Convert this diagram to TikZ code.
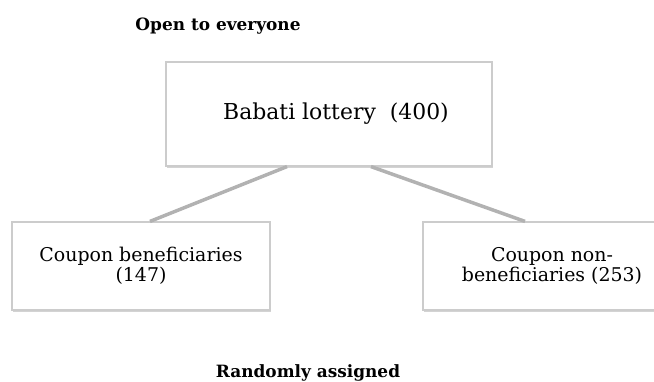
\documentclass[tikz,border=0pt]{standalone}
\usepackage{fontspec}
\setmainfont{DejaVu Serif}
\usetikzlibrary{shadows}
\tikzset{
    box/.style={draw=gray!40, line width=1.2bp, fill=white, align=center,
        drop shadow={shadow xshift=0.8bp, shadow yshift=-1.6bp, opacity=0.35}},
    link/.style={draw=gray!60, line width=3.5bp},
    note/.style={font=\bfseries\fontsize{17}{19}\selectfont, anchor=base},
}
\begin{document}
\begin{tikzpicture}[x=1bp,y=-1bp]
    \clip (0,0) rectangle (654,381);%整个画面的范围
    \node[note] (open) at (218,30) {Open to everyone};
    \node[box, minimum width=326bp, minimum height=104bp,
        font=\fontsize{22}{24}\selectfont] (lottery) at (329,114) {~~Babati lottery~~(400)};
    \node[box, minimum width=258bp, minimum height=88bp,
        font=\fontsize{19}{20}\selectfont] (benef) at (141,266) {Coupon beneficiaries\\(147)};
    \node[box, minimum width=258bp, minimum height=88bp,
        font=\fontsize{19}{20}\selectfont] (nonbenef) at (552,266) {Coupon non-\\beneficiaries (253)};%右边的框超出画面
    \draw[link] ([xshift=-42bp]lottery.south) -- ([xshift=9bp]benef.north);
    \draw[link] ([xshift=42bp]lottery.south) -- ([xshift=-27bp]nonbenef.north);
    \node[note] (random) at (308,377) {Randomly assigned};
\end{tikzpicture}
\end{document}
